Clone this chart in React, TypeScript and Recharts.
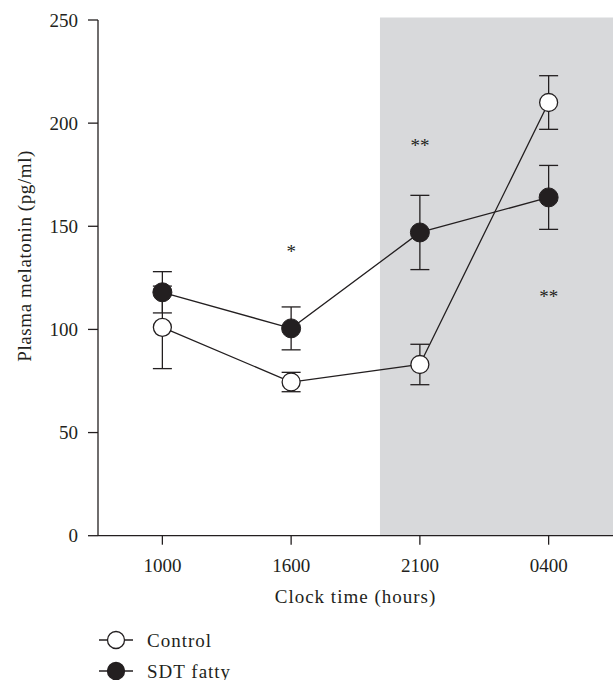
import React from 'react';
import {
  ComposedChart,
  Line,
  XAxis,
  YAxis,
  ErrorBar,
  ReferenceArea,
  ReferenceDot,
  Legend,
} from 'recharts';

// ---- data ----
const categories = ['1000', '1600', '2100', '0400'];
const controlMean = [101, 74.5, 83, 210];
const controlErr = [20, 4.7, 9.8, 13];
const sdtMean = [118, 100.5, 147, 164];
const sdtErr = [10, 10.4, 18, 15.5];
const yTicks = [0, 50, 100, 150, 200, 250];
const annotationIndex = [1, 2, 3];
const annotationY = [139.3, 190.5, 117.5];
const annotationText = ['*', '**', '**'];
const darkPhaseStart = 1.69;
const darkPhaseEnd = 3.5;
const darkPhaseTop = 251.2;

const INK = '#231f20';
const FONT = '"Liberation Serif", "Times New Roman", serif';

const rows = categories.map((c, i) => ({
  x: i,
  control: controlMean[i],
  controlErr: controlErr[i],
  sdt: sdtMean[i],
  sdtErr: sdtErr[i],
}));

const legendItems = [
  { name: 'Control', fill: '#ffffff' },
  { name: 'SDT fatty', fill: INK },
];

const renderLegend = () => (
  <svg width={250} height={70} style={{ overflow: 'visible' }}>
    {legendItems.map((s, i) => (
      <g key={s.name} transform={`translate(0, ${20 + i * 31})`}>
        <line x1={99} x2={133} y1={0} y2={0} stroke={INK} strokeWidth={1.3} />
        <circle cx={116} cy={0} r={8.5} fill={s.fill} stroke={INK} strokeWidth={1.3} />
        <text
          x={147}
          y={0}
          dy={6.5}
          fontSize={19}
          letterSpacing={1}
          fontFamily={FONT}
          fill={INK}
        >
          {s.name}
        </text>
      </g>
    ))}
  </svg>
);

const renderYLabel = (props: any) => {
  const vb = props.viewBox || {};
  const cx = (vb.x ?? 0) + 31.5;
  const cy = (vb.y ?? 0) + (vb.height ?? 0) / 2 - 22;
  return (
    <text
      x={cx}
      y={cy}
      transform={`rotate(-90, ${cx}, ${cy})`}
      textAnchor="middle"
      fontSize={19}
      letterSpacing={0.6}
      fontFamily={FONT}
      fill={INK}
    >
      Plasma melatonin (pg/ml)
    </text>
  );
};

const renderXLabel = (props: any) => {
  const vb = props.viewBox || {};
  const cx = (vb.x ?? 0) + (vb.width ?? 0) / 2;
  const cy = (vb.y ?? 0) + 67.6;
  return (
    <text
      x={cx}
      y={cy}
      textAnchor="middle"
      fontSize={19}
      letterSpacing={1}
      fontFamily={FONT}
      fill={INK}
    >
      Clock time (hours)
    </text>
  );
};

const makeStar = (txt: string) => (props: any) => (
  <text
    x={props.cx}
    y={props.cy}
    dy={9.5}
    textAnchor="middle"
    fontSize={19}
    fontFamily={FONT}
    fill={INK}
  >
    {txt}
  </text>
);

export default function App() {
  return (
    <div style={{ position: 'absolute', left: 0, top: 0, background: '#fff' }}>
      <ComposedChart
        width={613}
        height={680}
        data={rows}
        margin={{ top: 20, right: 0, bottom: 64.3, left: 0 }}
        style={{ fontFamily: FONT }}
      >
        <ReferenceArea
          x1={darkPhaseStart}
          x2={darkPhaseEnd}
          y1={0}
          y2={darkPhaseTop}
          ifOverflow="visible"
          fill="#d8d9db"
          fillOpacity={1}
          stroke="none"
        />
        <XAxis
          type="number"
          dataKey="x"
          domain={[-0.5, 3.5]}
          ticks={[0, 1, 2, 3]}
          tickFormatter={(v: number) => categories[v]}
          allowDataOverflow
          height={80}
          tickSize={9}
          tickMargin={14}
          axisLine={{ stroke: INK, strokeWidth: 1.3 }}
          tickLine={{ stroke: INK, strokeWidth: 1.3 }}
          tick={{ fill: INK, fontSize: 19, fontFamily: FONT }}
          label={renderXLabel}
        />
        <YAxis
          type="number"
          domain={[0, 250]}
          ticks={yTicks}
          width={98}
          tickSize={10}
          tickMargin={10}
          axisLine={{ stroke: INK, strokeWidth: 1.3 }}
          tickLine={{ stroke: INK, strokeWidth: 1.3 }}
          tick={{ fill: INK, fontSize: 19, fontFamily: FONT }}
          label={renderYLabel}
        />
        <Line
          dataKey="control"
          name="Control"
          stroke={INK}
          strokeWidth={1.3}
          isAnimationActive={false}
          dot={{ r: 9, fill: '#ffffff', stroke: INK, strokeWidth: 1.3 }}
          activeDot={false}
          type="linear"
        >
          <ErrorBar dataKey="controlErr" direction="y" width={9.5} stroke={INK} strokeWidth={1.3} />
        </Line>
        <Line
          dataKey="sdt"
          name="SDT fatty"
          stroke={INK}
          strokeWidth={1.3}
          isAnimationActive={false}
          dot={{ r: 9.5, fill: INK, stroke: INK, strokeWidth: 1 }}
          activeDot={false}
          type="linear"
        >
          <ErrorBar dataKey="sdtErr" direction="y" width={9.5} stroke={INK} strokeWidth={1.3} />
        </Line>
        {annotationIndex.map((xi, i) => (
          <ReferenceDot
            key={i}
            x={xi}
            y={annotationY[i]}
            r={0}
            shape={makeStar(annotationText[i])}
          />
        ))}
        <Legend
          layout="horizontal"
          verticalAlign="middle"
          align="center"
          wrapperStyle={{ left: 0, top: 620, width: 250, height: 70 }}
          content={renderLegend}
        />
      </ComposedChart>
    </div>
  );
}
